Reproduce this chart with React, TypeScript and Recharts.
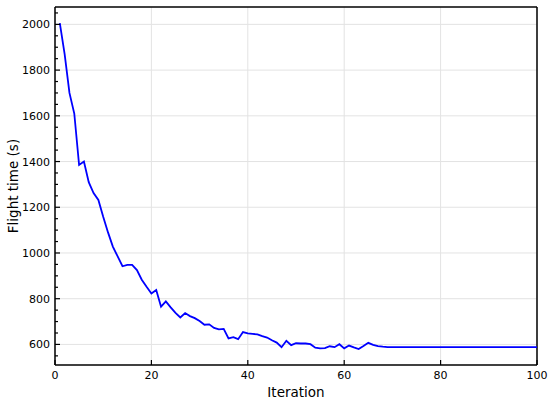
import React from 'react';
import { LineChart, Line, XAxis, YAxis, CartesianGrid, ReferenceLine } from 'recharts';

const iterations = [
  1, 2, 3, 4, 5, 6, 7, 8, 9, 10, 11, 12, 13, 14, 15, 16, 17, 18, 19, 20,
  21, 22, 23, 24, 25, 26, 27, 28, 29, 30, 31, 32, 33, 34, 35, 36, 37, 38, 39, 40,
  41, 42, 43, 44, 45, 46, 47, 48, 49, 50, 51, 52, 53, 54, 55, 56, 57, 58, 59, 60,
  61, 62, 63, 64, 65, 66, 67, 68, 69, 70, 71, 72, 73, 74, 75, 76, 77, 78, 79, 80,
  81, 82, 83, 84, 85, 86, 87, 88, 89, 90, 91, 92, 93, 94, 95, 96, 97, 98, 99, 100,
];

const flightTime = [
  2005, 1870, 1700, 1610, 1385, 1400, 1310, 1262, 1232, 1158,
  1090, 1028, 985, 942, 948, 948, 925, 883, 852, 823,
  838, 765, 788, 762, 738, 718, 737, 724, 715, 702,
  686, 688, 672, 666, 668, 626, 632, 623, 654, 648,
  646, 644, 636, 630, 618, 608, 588, 616, 597, 605,
  604, 604, 601, 586, 583, 584, 592, 588, 601, 583,
  595, 587, 580, 593, 607, 598, 593, 590, 588, 588,
  588, 588, 588, 588, 588, 588, 588, 588, 588, 588,
  588, 588, 588, 588, 588, 588, 588, 588, 588, 588,
  588, 588, 588, 588, 588, 588, 588, 588, 588, 588,
];

const xTicks = [0, 20, 40, 60, 80, 100];
const yMajorTicks = [600, 800, 1000, 1200, 1400, 1600, 1800, 2000];
const yAllTicks = [550, 600, 650, 700, 750, 800, 850, 900, 950, 1000, 1050, 1100, 1150, 1200, 1250, 1300, 1350, 1400, 1450, 1500, 1550, 1600, 1650, 1700, 1750, 1800, 1850, 1900, 1950, 2000, 2050];

const data = iterations.map((it, i) => ({ iteration: it, time: flightTime[i] }));

const FONT = 'DejaVu Sans, sans-serif';

const XTick = (props: any) => {
  const { x, y, payload } = props;
  return (
    <g>
      <line x1={x} x2={x} y1={y} y2={y - 5} stroke="#000" strokeWidth={1.2} />
      <text x={x} y={y + 14} textAnchor="middle" fontSize={11} fontFamily={FONT} fill="#000">
        {payload.value}
      </text>
    </g>
  );
};

const YTick = (props: any) => {
  const { x, y, payload } = props;
  const major = payload.value % 200 === 0;
  return (
    <g>
      <line x1={x} x2={x + (major ? 5 : 3)} y1={y} y2={y} stroke="#000" strokeWidth={1.2} />
      {major && (
        <text x={x - 5} y={y + 4} textAnchor="end" fontSize={11} fontFamily={FONT} fill="#000">
          {payload.value}
        </text>
      )}
    </g>
  );
};

export default function App() {
  return (
    <div style={{ position: 'absolute', left: 0, top: 0, background: '#fff' }}>
      <LineChart
        width={550}
        height={401}
        data={data}
        margin={{ top: 7, right: 13, left: 0, bottom: 0 }}
      >
        <CartesianGrid
          stroke="#e3e3e3"
          strokeWidth={1}
          horizontalValues={yMajorTicks}
          verticalValues={xTicks}
        />
        <XAxis
          dataKey="iteration"
          type="number"
          domain={[0, 100]}
          ticks={xTicks}
          height={36}
          tickSize={0}
          tickMargin={0}
          tickLine={false}
          tick={<XTick />}
          axisLine={{ stroke: '#000', strokeWidth: 1.5 }}
          allowDataOverflow
          label={{
            content: () => (
              <text x={296} y={397} textAnchor="middle" fontSize={13.5} fontFamily={FONT} fill="#000">
                Iteration
              </text>
            ),
          }}
        />
        <YAxis
          type="number"
          domain={[510, 2076]}
          ticks={yAllTicks}
          width={55}
          tickSize={0}
          tickMargin={0}
          tickLine={false}
          tick={<YTick />}
          interval={0}
          axisLine={{ stroke: '#000', strokeWidth: 1.5 }}
          allowDataOverflow
          label={{
            content: () => (
              <text
                x={18}
                y={186}
                textAnchor="middle"
                fontSize={13.5}
                fontFamily={FONT}
                fill="#000"
                transform="rotate(-90 18 186)"
              >
                Flight time (s)
              </text>
            ),
          }}
        />
        <ReferenceLine x={100} stroke="#000" strokeWidth={1.5} />
        <ReferenceLine y={2076} stroke="#000" strokeWidth={1.5} />
        <Line
          type="linear"
          dataKey="time"
          stroke="#0000ff"
          strokeWidth={1.8}
          dot={false}
          isAnimationActive={false}
        />
      </LineChart>
    </div>
  );
}
